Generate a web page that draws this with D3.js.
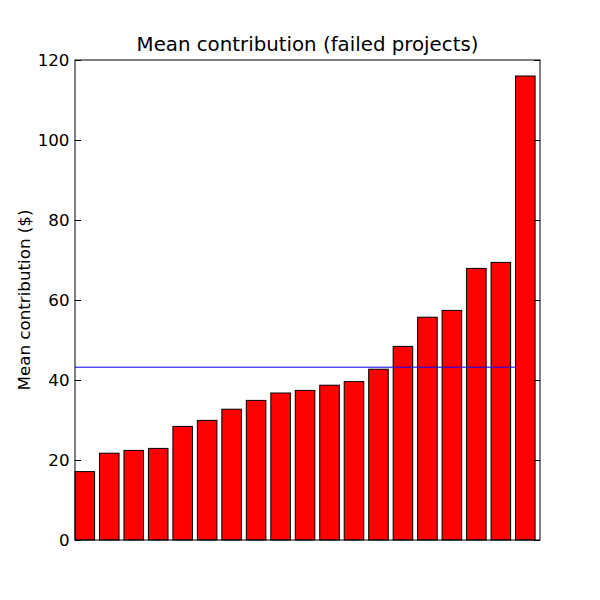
<!DOCTYPE html>
<html>
<head>
<meta charset="utf-8">
<script src="https://cdn.jsdelivr.net/npm/d3@7/dist/d3.min.js"></script>
<style>
body { margin: 0; background: #fff; }
text { font-family: "DejaVu Sans", sans-serif; }
</style>
</head>
<body>
<svg id="chart" width="600" height="600"></svg>
<script>
const values = [17.1, 21.7, 22.4, 22.9, 28.4, 29.9, 32.7, 34.9, 36.75, 37.4, 38.7, 39.6, 42.7, 48.4, 55.7, 57.4, 67.9, 69.4, 116.0];
const meanValue = 43.2;
const yTicks = [0, 20, 40, 60, 80, 100, 120];
const titleText = "Mean contribution (failed projects)";
const yLabelText = "Mean contribution ($)";

const svg = d3.select("#chart");
const mLeft = 75, mRight = 540, mTop = 60, mBottom = 540;

const x = d3.scaleLinear().domain([0, values.length]).range([mLeft, mRight]);
const y = d3.scaleLinear().domain([0, 120]).range([mBottom, mTop]);
const barW = 0.8;

svg.append("rect").attr("width", 600).attr("height", 600).attr("fill", "#fff");

svg.append("g").selectAll("rect").data(values).join("rect")
  .attr("x", (d, i) => x(i))
  .attr("y", d => y(d))
  .attr("width", x(barW) - x(0))
  .attr("height", d => y(0) - y(d))
  .attr("fill", "#ff0000")
  .attr("stroke", "#000")
  .attr("stroke-width", 1);

svg.append("line")
  .attr("x1", x(0)).attr("x2", x(values.length - 1))
  .attr("y1", y(meanValue)).attr("y2", y(meanValue))
  .attr("stroke", "#0000ff").attr("stroke-width", 1);

const yAxisL = d3.axisLeft(y).tickValues(yTicks).tickSizeInner(-6).tickSizeOuter(0).tickPadding(5.5);
const gL = svg.append("g").attr("transform", `translate(${mLeft},0)`).call(yAxisL);
gL.select(".domain").remove();
gL.selectAll("text").attr("font-size", "16.7px").attr("fill", "#000").attr("font-family", "DejaVu Sans");
gL.selectAll("line").attr("stroke", "#000");

const yAxisR = d3.axisRight(y).tickValues(yTicks).tickSizeInner(-6).tickSizeOuter(0).tickFormat("");
const gR = svg.append("g").attr("transform", `translate(${mRight},0)`).call(yAxisR);
gR.select(".domain").remove();
gR.selectAll("line").attr("stroke", "#000");

svg.append("rect")
  .attr("x", mLeft).attr("y", mTop)
  .attr("width", mRight - mLeft).attr("height", mBottom - mTop)
  .attr("fill", "none").attr("stroke", "#000").attr("stroke-width", 1);

svg.append("text")
  .attr("x", (mLeft + mRight) / 2).attr("y", 51)
  .attr("text-anchor", "middle")
  .attr("font-size", "19.8px")
  .text(titleText);

svg.append("text")
  .attr("transform", "translate(29.5,300) rotate(-90)")
  .attr("text-anchor", "middle")
  .attr("font-size", "16.7px")
  .text(yLabelText);
</script>
</body>
</html>
